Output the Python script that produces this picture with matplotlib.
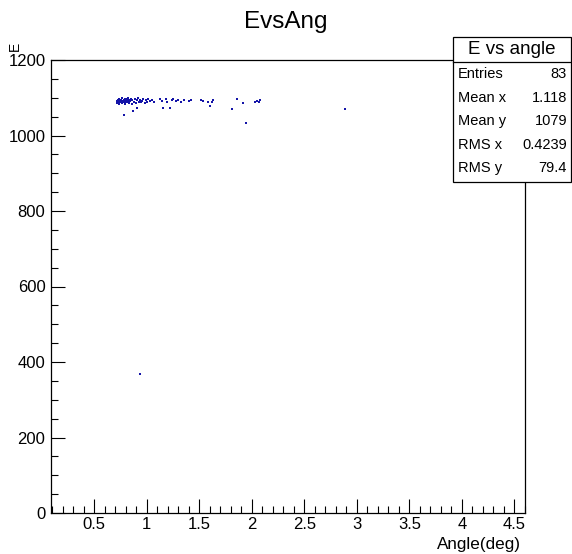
import matplotlib
matplotlib.use("Agg")
import matplotlib.pyplot as plt
from matplotlib.ticker import MultipleLocator
from matplotlib.patches import Rectangle

plt.rcParams['font.family'] = ['Liberation Sans', 'DejaVu Sans']

angle = [0.72, 0.72, 0.73, 0.73, 0.74, 0.74, 0.75, 0.75, 0.76, 0.76, 0.77, 0.77, 0.78, 0.78,
         0.79, 0.79, 0.80, 0.80, 0.81, 0.81, 0.82, 0.82, 0.83, 0.83, 0.84, 0.85, 0.86, 0.86,
         0.725, 0.745, 0.765, 0.795, 0.815,
         0.78, 0.87, 0.91, 0.94,
         0.88, 0.89, 0.90, 0.91, 0.92, 0.93, 0.94, 0.95, 0.96, 0.97, 0.98, 0.99, 1.00, 1.01,
         1.03, 1.05, 1.07,
         1.13, 1.15, 1.16, 1.18, 1.19, 1.22, 1.24, 1.25, 1.28, 1.30, 1.33, 1.36,
         1.40, 1.42, 1.52, 1.54, 1.58, 1.60, 1.62, 1.63,
         1.81, 1.86, 1.92, 1.95, 2.03, 2.05, 2.07, 2.08,
         2.89]
energy = [1092, 1086, 1095, 1089, 1098, 1084, 1092, 1088, 1095, 1090, 1086, 1099, 1093, 1089,
          1096, 1084, 1091, 1097, 1088, 1094, 1092, 1100, 1087, 1095, 1091, 1098, 1093, 1083,
          1090, 1093, 1092, 1090, 1096,
          1054, 1066, 1072, 369,
          1090, 1096, 1086, 1093, 1099, 1090, 1095, 1088, 1092, 1097, 1086, 1093, 1090, 1096,
          1092, 1094, 1090,
          1096, 1092, 1074, 1097, 1090, 1074, 1094, 1096, 1091, 1094, 1090, 1093,
          1092, 1095, 1094, 1092, 1088, 1077, 1090, 1094,
          1070, 1098, 1086, 1033, 1088, 1092, 1090, 1094,
          1070]

x_ticks = [0.5, 1, 1.5, 2, 2.5, 3, 3.5, 4, 4.5]
x_tick_labels = ["0.5", "1", "1.5", "2", "2.5", "3", "3.5", "4", "4.5"]
stat_labels = ["Entries", "Mean x", "Mean y", "RMS x", "RMS y"]
stat_values = ["83", "1.118", "1079", "0.4239", "79.4"]

fig = plt.figure(figsize=(5.72, 5.54), dpi=100)
ax = fig.add_axes([51/572, 1 - 513/554, (525 - 51)/572, (513 - 60)/554])
ax.scatter(angle, energy, s=4.5, marker='s', color='#1414a8', linewidths=0)
ax.set_xlim(0.09, 4.6)
ax.set_ylim(0, 1200)

ax.xaxis.set_minor_locator(MultipleLocator(0.1))
ax.yaxis.set_major_locator(MultipleLocator(200))
ax.yaxis.set_minor_locator(MultipleLocator(50))
ax.set_xticks(x_ticks)
ax.set_xticklabels(x_tick_labels)
ax.tick_params(which='both', direction='in', top=False, right=False, labelsize=12)
ax.tick_params(which='major', length=10, width=0.8)
ax.tick_params(which='minor', length=5, width=0.8)
ax.tick_params(axis='x', pad=3)
ax.tick_params(axis='y', pad=4)
for s in ax.spines.values():
    s.set_linewidth(0.9)

fig.text(0.5, 1 - 22/554, "EvsAng", ha='center', va='center', fontsize=17.5)
fig.text(521/572, 1 - 544/554, "Angle(deg)", ha='right', va='center', fontsize=12.3)
fig.text(15/572, 1 - 51/554, "E", ha='center', va='bottom', fontsize=10, rotation=90)

# stats box
bx0, bx1 = 453/572, 571/572
by_top, by_head, by_bot = 1 - 37/554, 1 - 62/554, 1 - 182/554
fig.patches.append(Rectangle((bx0, by_bot), bx1 - bx0, by_top - by_bot, transform=fig.transFigure,
                             facecolor='white', edgecolor='black', linewidth=0.9, zorder=5))
fig.lines.append(plt.Line2D([bx0, bx1], [by_head, by_head], transform=fig.transFigure,
                            color='black', linewidth=0.9, zorder=6))
fig.text((bx0 + bx1) / 2, (by_top + by_head) / 2, "E vs angle", ha='center', va='center',
         fontsize=13.5, zorder=7)
row_y = [74, 98, 121, 145, 168]
for lab, val, ry in zip(stat_labels, stat_values, row_y):
    fig.text(bx0 + 5/572, 1 - ry/554, lab, ha='left', va='center', fontsize=10.5, zorder=7)
    fig.text(bx1 - 4/572, 1 - ry/554, val, ha='right', va='center', fontsize=10.5, zorder=7)

fig.savefig("out.png", dpi=100)
